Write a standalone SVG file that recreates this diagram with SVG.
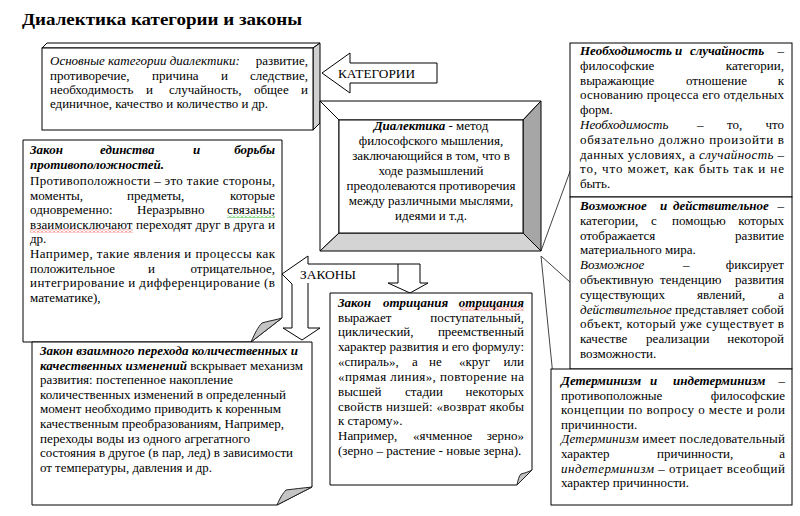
<svg xmlns="http://www.w3.org/2000/svg" width="800" height="516" viewBox="0 0 800 516">
<defs>
<style>
text{font-family:"Liberation Serif","Times New Roman",Tinos,Times,"Noto Serif","DejaVu Serif",FreeSerif,serif}
.t{font-size:13px;fill:#000}
.bi{font-weight:bold;font-style:italic}
.i{font-style:italic}
.e{text-anchor:end}
.m{text-anchor:middle}
.box{fill:#fff;stroke:#000;stroke-width:1}
.fold{fill:#c4c4c4;stroke:#222;stroke-width:1}
.ld{stroke:#444;stroke-width:1;fill:none}
.arr{fill:#fff;stroke:#000;stroke-width:1}
</style>
<pattern id="wr" width="4" height="3" patternUnits="userSpaceOnUse"><path d="M0,2.5 L2,0.5 L4,2.5" fill="none" stroke="#e00" stroke-width="0.8"/></pattern>
<pattern id="wg" width="4" height="3" patternUnits="userSpaceOnUse"><path d="M0,2.5 L2,0.5 L4,2.5" fill="none" stroke="#0a0" stroke-width="0.8"/></pattern>
</defs>
<rect width="800" height="516" fill="#fff"/>
<text class="t" x="22" y="25" style="font-size:17px;font-weight:bold" textLength="280" lengthAdjust="spacingAndGlyphs">Диалектика категории и законы</text>

<g id="connectors">
<line class="ld" x1="541" y1="251" x2="580" y2="144"/>
<line class="ld" x1="541" y1="256" x2="580" y2="291"/>
<line class="ld" x1="541" y1="256" x2="553" y2="376"/>
</g>

<g id="n-categories-main">
<polygon points="42,48 47,43 320,43 313,48" fill="#fff" stroke="#000"/>
<polygon points="313,48 320,43 320,123 313,130" fill="#d0d0d0" stroke="#000"/>
<rect class="box" x="42" y="48" width="271" height="82"/>
<text class="t i" x="50" y="65">Основные категории диалектики:</text>
<text class="t e" x="308" y="65">развитие,</text>
<text class="t" y="80"><tspan x="50">противоречие,</tspan><tspan x="152">причина</tspan><tspan x="221">и</tspan></text>
<text class="t e" x="308" y="80">следствие,</text>
<text class="t" y="94"><tspan x="50">необходимость</tspan><tspan x="146">и</tspan><tspan x="169">случайность,</tspan><tspan x="254">общее</tspan></text>
<text class="t e" x="308" y="94">и</text>
<text class="t" x="50" y="108" textLength="218" lengthAdjust="spacingAndGlyphs">единичное, качество и количество и др.</text>
</g>

<g id="n-arrow-categories">
<polygon class="arr" points="322,73 350,53 350,63 437,63 437,83 350,83 350,93"/>
<text class="t" x="338" y="77.5" textLength="77" lengthAdjust="spacingAndGlyphs">КАТЕГОРИИ</text>
</g>

<g id="n-dialectic">
<polygon points="320,101 541,101 523,120 339,120" fill="#fff" stroke="#000"/>
<polygon points="320,101 339,120 339,233 320,251" fill="#fff" stroke="#000"/>
<polygon points="541,101 541,251 523,233 523,120" fill="#a6a6a6" stroke="#000"/>
<polygon points="320,251 541,251 523,233 339,233" fill="#d4d4d4" stroke="#000"/>
<rect class="box" x="339" y="120" width="184" height="113"/>
<text class="t m" x="431" y="130"><tspan class="bi">Диалектика</tspan> - метод</text>
<text class="t m" x="431" y="145">философского мышления,</text>
<text class="t m" x="431" y="160">заключающийся в том, что в</text>
<text class="t m" x="431" y="175">ходе размышлений</text>
<text class="t m" x="431" y="190">преодолеваются противоречия</text>
<text class="t m" x="431" y="205">между различными мыслями,</text>
<text class="t m" x="431" y="220">идеями и т.д.</text>
</g>

<g id="n-law-unity">
<path class="box" d="M23,140 H282 V318 L251,342 H23 Z"/>
<path class="fold" d="M251,342 C255,333 258,327 262,323 C268,321 276,320 282,318 Z"/>
<text class="t bi" x="30" y="154">Закон</text>
<text class="t bi" x="100" y="154">единства</text>
<text class="t bi" x="193" y="154">и</text>
<text class="t bi e" x="275" y="154">борьбы</text>
<text class="t bi" x="30" y="169">противоположностей.</text>
<text class="t" x="30" y="185" textLength="245" lengthAdjust="spacing">Противоположности – это такие стороны,</text>
<text class="t" y="199.6"><tspan x="30">моменты,</tspan><tspan x="127">предметы,</tspan></text>
<text class="t e" x="275" y="199.6">которые</text>
<text class="t" y="214.2"><tspan x="30">одновременно:</tspan><tspan x="137">Неразрывно</tspan></text>
<text class="t e" x="275" y="214.2">связаны;</text>
<text class="t" x="30" y="228.8" textLength="245" lengthAdjust="spacing">взаимоисключают переходят друг в друга и</text>
<text class="t" x="30" y="243.4">др.</text>
<text class="t" x="30" y="258" textLength="245" lengthAdjust="spacing">Например, такие явления и процессы как</text>
<text class="t" y="272.6"><tspan x="30">положительное</tspan><tspan x="148">и</tspan></text>
<text class="t e" x="275" y="272.6">отрицательное,</text>
<text class="t" x="30" y="287.2" textLength="245" lengthAdjust="spacing">интегрирование и дифференцирование (в</text>
<text class="t" x="30" y="301.8">математике),</text>
<rect x="227" y="215" width="48" height="3" fill="url(#wg)"/>
<rect x="30" y="229.5" width="103" height="3" fill="url(#wr)"/>
</g>

<g id="n-arrow-laws">
<polygon points="282,274 308,256 308,264 420,264 420,283 428,283 410,293 388,283 308,283 308,328 320,328 302,340 283,328 292,328 292,285" fill="#fff"/>
<path d="M292,328 V284 L282,274 L308,256 V264 H420 V283 H428 L410,293 L388,283 H398 V264" fill="none" stroke="#000"/>
<path d="M308,283 V328 H320 L302,340 L283,328 H292" fill="none" stroke="#000"/>
<text class="t" x="300" y="279" textLength="56" lengthAdjust="spacingAndGlyphs">ЗАКОНЫ</text>
</g>

<g id="n-law-transition">
<path class="box" d="M32,342 H312 V487 L277,505 H32 Z"/>
<path class="fold" d="M277,505 C280,498 283,493 286,490 C294,489 303,488 312,487 Z"/>
<text class="t bi" x="40" y="355" textLength="258" lengthAdjust="spacingAndGlyphs">Закон взаимного перехода количественных и</text>
<text class="t" x="40" y="369.6" textLength="263" lengthAdjust="spacingAndGlyphs"><tspan class="bi">качественных изменений</tspan> вскрывает механизм</text>
<text class="t" x="40" y="384.2" textLength="193" lengthAdjust="spacingAndGlyphs">развития: постепенное накопление</text>
<text class="t" x="40" y="398.8" textLength="246" lengthAdjust="spacingAndGlyphs">количественных изменений в определенный</text>
<text class="t" x="40" y="413.4" textLength="241" lengthAdjust="spacingAndGlyphs">момент необходимо приводить к коренным</text>
<text class="t" x="40" y="428" textLength="244" lengthAdjust="spacingAndGlyphs">качественным преобразованиям, Например,</text>
<text class="t" x="40" y="442.6" textLength="210" lengthAdjust="spacingAndGlyphs">переходы воды из одного агрегатного</text>
<text class="t" x="40" y="457.2" textLength="253" lengthAdjust="spacingAndGlyphs">состояния в другое (в пар, лед) в зависимости</text>
<text class="t" x="40" y="471.8" textLength="172" lengthAdjust="spacingAndGlyphs">от температуры, давления и др.</text>
</g>

<g id="n-law-negation">
<path class="box" d="M330,293 H532 V470 L517,485 H330 Z"/>
<path class="fold" d="M517,485 C518,480 519,476 521,474 C525,473 528,472 532,470 Z"/>
<text class="t bi" y="306.7"><tspan x="338">Закон</tspan><tspan x="383">отрицания</tspan></text>
<text class="t bi e" x="524" y="306.7">отрицания</text>
<text class="t" x="338" y="321.5">выражает</text>
<text class="t e" x="524" y="321.5">поступательный,</text>
<text class="t" x="338" y="336.4">циклический,</text>
<text class="t e" x="524" y="336.4">преемственный</text>
<text class="t" x="338" y="351.2" textLength="186" lengthAdjust="spacing">характер развития и его формулу:</text>
<text class="t" y="366"><tspan x="338">«спираль»,</tspan><tspan x="412">а</tspan><tspan x="429">не</tspan><tspan x="459">«круг</tspan></text>
<text class="t e" x="524" y="366">или</text>
<text class="t" x="338" y="380.9" textLength="186" lengthAdjust="spacing">«прямая линия», повторение на</text>
<text class="t" y="395.7"><tspan x="338">высшей</tspan><tspan x="405">стадии</tspan></text>
<text class="t e" x="524" y="395.7">некоторых</text>
<text class="t" x="338" y="410.5" textLength="186" lengthAdjust="spacing">свойств низшей: «возврат якобы</text>
<text class="t" x="338" y="425.4">к старому».</text>
<text class="t" y="440.2"><tspan x="338">Например,</tspan><tspan x="413">«ячменное</tspan></text>
<text class="t e" x="524" y="440.2">зерно»</text>
<text class="t" x="338" y="455">(зерно – растение - новые зерна).</text>
<rect x="460" y="307.5" width="64" height="3" fill="url(#wr)"/>
</g>

<g id="n-necessity">
<rect class="box" x="570" y="43" width="222" height="154"/>
<text class="t bi" y="55"><tspan x="580">Необходимость</tspan><tspan x="675">и</tspan><tspan x="690">случайность</tspan></text>
<text class="t e" x="784" y="55">–</text>
<text class="t" x="580" y="69.8">философские</text>
<text class="t e" x="784" y="69.8">категории,</text>
<text class="t" y="84.6"><tspan x="580">выражающие</tspan><tspan x="686">отношение</tspan></text>
<text class="t e" x="784" y="84.6">к</text>
<text class="t" x="580" y="99.4" textLength="204" lengthAdjust="spacing">основанию процесса его отдельных</text>
<text class="t" x="580" y="114.2">форм.</text>
<text class="t" y="129"><tspan x="580" class="i">Необходимость</tspan><tspan x="697">–</tspan><tspan x="727">то,</tspan></text>
<text class="t e" x="784" y="129">что</text>
<text class="t" x="580" y="143.8" textLength="204" lengthAdjust="spacing">обязательно должно произойти в</text>
<text class="t" x="580" y="158.6" textLength="204" lengthAdjust="spacing">данных условиях, а <tspan class="i">случайность</tspan> –</text>
<text class="t" x="580" y="173.4" textLength="204" lengthAdjust="spacing">то, что может, как быть так и не</text>
<text class="t" x="580" y="188.2">быть.</text>
</g>

<g id="n-possible">
<rect class="box" x="570" y="197" width="222" height="172"/>
<text class="t bi" y="210"><tspan x="580">Возможное</tspan><tspan x="660">и</tspan><tspan x="673">действительное</tspan></text>
<text class="t e" x="784" y="210">–</text>
<text class="t" y="224.8"><tspan x="580">категории,</tspan><tspan x="651">с</tspan><tspan x="672">помощью</tspan></text>
<text class="t e" x="784" y="224.8">которых</text>
<text class="t" x="580" y="239.6">отображается</text>
<text class="t e" x="784" y="239.6">развитие</text>
<text class="t" x="580" y="254.4">материального мира.</text>
<text class="t" y="269.2"><tspan x="580" class="i">Возможное</tspan><tspan x="683">–</tspan></text>
<text class="t e" x="784" y="269.2">фиксирует</text>
<text class="t" y="284"><tspan x="580">объективную</tspan><tspan x="660">тенденцию</tspan></text>
<text class="t e" x="784" y="284">развития</text>
<text class="t" y="298.8"><tspan x="580">существующих</tspan><tspan x="697">явлений,</tspan></text>
<text class="t e" x="784" y="298.8">а</text>
<text class="t" x="580" y="313.6" textLength="204" lengthAdjust="spacing"><tspan class="i">действительное</tspan> представляет собой</text>
<text class="t" x="580" y="328.4" textLength="204" lengthAdjust="spacing">объект, который уже существует в</text>
<text class="t" y="343.2"><tspan x="580">качестве</tspan><tspan x="646">реализации</tspan></text>
<text class="t e" x="784" y="343.2">некоторой</text>
<text class="t" x="580" y="358">возможности.</text>
</g>

<g id="n-determinism">
<rect class="box" x="551" y="369" width="241" height="136"/>
<text class="t bi" y="385"><tspan x="561">Детерминизм</tspan><tspan x="650">и</tspan><tspan x="673">индетерминизм</tspan></text>
<text class="t e" x="785" y="385">–</text>
<text class="t" x="561" y="399.6">противоположные</text>
<text class="t e" x="785" y="399.6">философские</text>
<text class="t" x="561" y="414.2" textLength="224" lengthAdjust="spacing">концепции по вопросу о месте и роли</text>
<text class="t" x="561" y="428.8">причинности.</text>
<text class="t" x="561" y="443.4" textLength="224" lengthAdjust="spacing"><tspan class="i">Детерминизм</tspan> имеет последовательный</text>
<text class="t" y="458"><tspan x="561">характер</tspan><tspan x="657">причинности,</tspan></text>
<text class="t e" x="785" y="458">а</text>
<text class="t" x="561" y="472.6" textLength="224" lengthAdjust="spacing"><tspan class="i">индетерминизм</tspan> – отрицает всеобщий</text>
<text class="t" x="561" y="487.2">характер причинности.</text>
</g>
</svg>
